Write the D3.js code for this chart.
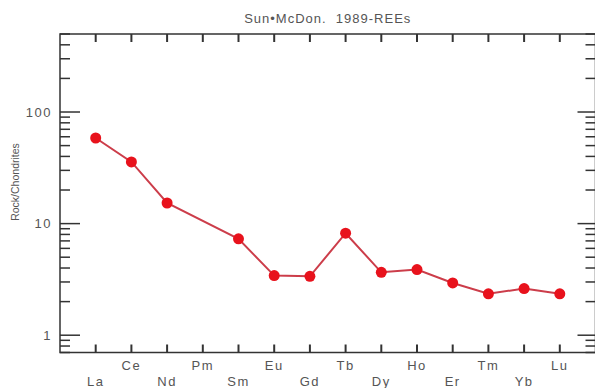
<!DOCTYPE html>
<html>
<head>
<meta charset="utf-8">
<script src="https://cdn.jsdelivr.net/npm/d3@7"></script>
<style>
  body { margin: 0; background: #fff; }
  text { font-family: "Liberation Sans", Arial, sans-serif; fill: #555; }
</style>
</head>
<body>
<script>
var width = 595,
    height = 388;

// REE order, chondrite normalised values (Pm missing)
var elements = ["La", "Ce", "Nd", "Pm", "Sm", "Eu", "Gd", "Tb", "Dy", "Ho", "Er", "Tm", "Yb", "Lu"];
var values = [58.5, 35.7, 15.3, null, 7.3, 3.42, 3.37, 8.2, 3.66, 3.87, 2.94, 2.35, 2.62, 2.35];
var yTicks = [1, 10, 100];
var title = "Sun•McDon.  1989-REEs";
var yLabel = "Rock/Chondrites";

var svg = d3.select("body").append("svg").attr("width", width).attr("height", height);

var pLeft = 60, pRight = 595.5, pTop = 34, pBottom = 352.5;

var X = d3.scaleLinear().domain([-1, elements.length]).range([pLeft, pRight]);
var Y = d3.scaleLog().domain([0.7, 500]).range([pBottom, pTop]);

// minor log ticks
var minor = [];
[0.1, 1, 10, 100].forEach(function(dec) {
	for (var k = 2; k <= 9; k++) {
		var v = dec * k;
		if (v >= 0.7 && v <= 500) minor.push(v);
	}
});

var frame = svg.append("g").attr("stroke", "#333").attr("fill", "none");

frame.append("rect")
	.attr("x", pLeft).attr("y", pTop)
	.attr("width", pRight - pLeft).attr("height", pBottom - pTop)
	.attr("stroke-width", 1.5);

// left axis ticks (inward)
frame.selectAll(".ymaj").data(yTicks).enter().append("line")
	.attr("x1", pLeft).attr("x2", pLeft + 20)
	.attr("y1", function(d) { return Y(d) }).attr("y2", function(d) { return Y(d) })
	.attr("stroke-width", 1.5);
frame.selectAll(".ymin").data(minor).enter().append("line")
	.attr("x1", pLeft).attr("x2", pLeft + 10)
	.attr("y1", function(d) { return Y(d) }).attr("y2", function(d) { return Y(d) })
	.attr("stroke-width", 1.5);

// right axis ticks (inward)
frame.selectAll(".ymaj2").data(yTicks).enter().append("line")
	.attr("x1", pRight).attr("x2", pRight - 18)
	.attr("y1", function(d) { return Y(d) }).attr("y2", function(d) { return Y(d) })
	.attr("stroke-width", 1.5);
frame.selectAll(".ymin2").data(minor).enter().append("line")
	.attr("x1", pRight).attr("x2", pRight - 10)
	.attr("y1", function(d) { return Y(d) }).attr("y2", function(d) { return Y(d) })
	.attr("stroke-width", 1.5);

// x ticks top and bottom
frame.selectAll(".xb").data(elements).enter().append("line")
	.attr("x1", function(d, i) { return X(i) }).attr("x2", function(d, i) { return X(i) })
	.attr("y1", pBottom).attr("y2", pBottom - 8)
	.attr("stroke-width", 2);
frame.selectAll(".xt").data(elements).enter().append("line")
	.attr("x1", function(d, i) { return X(i) }).attr("x2", function(d, i) { return X(i) })
	.attr("y1", pTop).attr("y2", pTop + 8)
	.attr("stroke-width", 2);

// y tick labels
svg.selectAll(".ylab").data(yTicks).enter().append("text")
	.attr("x", pLeft - 8)
	.attr("y", function(d) { return Y(d) })
	.attr("dy", "0.35em")
	.attr("text-anchor", "end")
	.style("font-size", "13px")
	.style("letter-spacing", "1.5px")
	.text(function(d) { return d });

// x labels, alternating rows
svg.selectAll(".xlab").data(elements).enter().append("text")
	.attr("x", function(d, i) { return X(i) })
	.attr("y", function(d, i) { return i % 2 == 0 ? 385.5 : 369.5 })
	.attr("text-anchor", "middle")
	.style("font-size", "13px")
	.style("letter-spacing", "1.5px")
	.text(function(d) { return d });

svg.append("text")
	.attr("x", (pLeft + pRight) / 2).attr("y", 23)
	.attr("text-anchor", "middle")
	.style("font-size", "13px")
	.style("letter-spacing", "1px")
	.style("white-space", "pre")
	.text(title);

svg.append("text")
	.attr("transform", "translate(19," + 182 + ") rotate(-90)")
	.attr("text-anchor", "middle")
	.style("font-size", "10.5px")
	.text(yLabel);

// data
var pts = values.map(function(v, i) { return { i: i, v: v } }).filter(function(d) { return d.v != null });

var line = d3.line()
	.x(function(d) { return X(d.i) })
	.y(function(d) { return Y(d.v) });

svg.append("path").datum(pts)
	.attr("d", line)
	.attr("fill", "none")
	.attr("stroke", "#cc3d4a")
	.attr("stroke-width", 2);

svg.selectAll(".dot").data(pts).enter().append("circle")
	.attr("cx", function(d) { return X(d.i) })
	.attr("cy", function(d) { return Y(d.v) })
	.attr("r", 5.5)
	.attr("fill", "#e8121c");
</script>
</body>
</html>
